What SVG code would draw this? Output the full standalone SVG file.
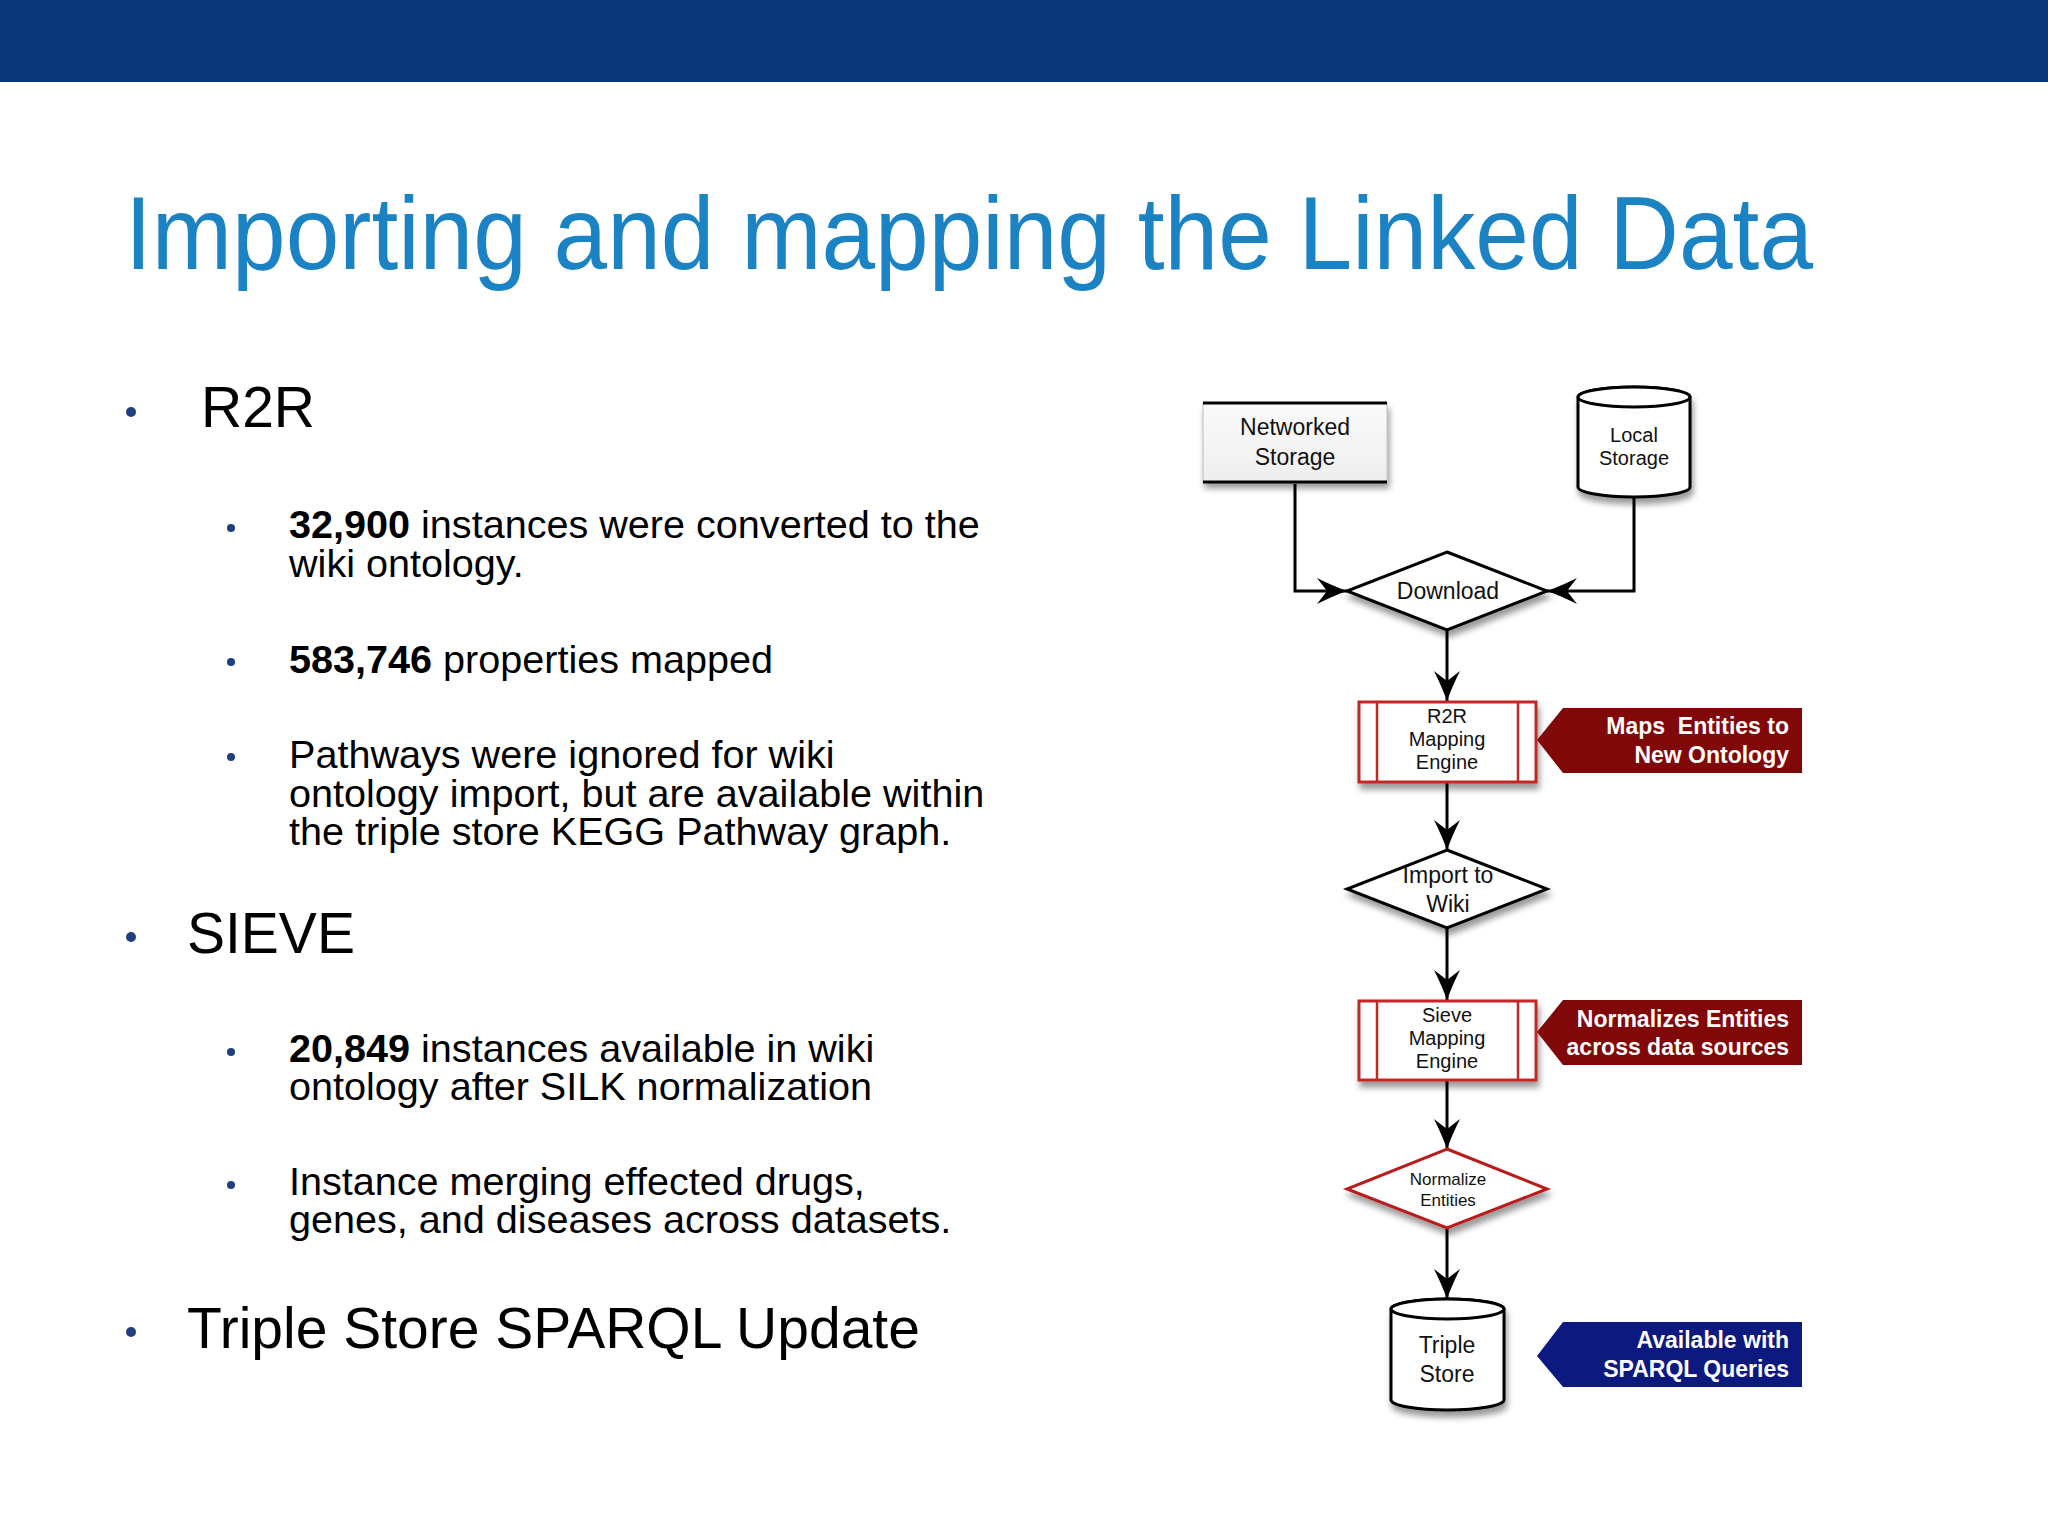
<svg xmlns="http://www.w3.org/2000/svg" width="2048" height="1536" viewBox="0 0 2048 1536">
<defs>
<style>
.body{font-family:"Liberation Sans",Arial,sans-serif;fill:#000}
.lvl1{font-size:57px}
.lvl2{font-size:39.6px}
.bullet{fill:#1f3f80}
.node{font-family:"Liberation Sans",Arial,sans-serif;fill:#111;text-anchor:middle}
.callout{font-family:"Liberation Sans",Arial,sans-serif;font-weight:bold;font-size:23px;fill:#fff;text-anchor:end;white-space:pre}
.edge{fill:none;stroke:#000;stroke-width:3;marker-end:url(#arrow)}
.shape{fill:#fff;stroke:#000;stroke-width:3}
.redbox{fill:#fff;stroke:#c42626;stroke-width:3}
.redline{stroke:#c42626;stroke-width:2.5}
</style>
<filter id="shadow" x="-20%" y="-20%" width="140%" height="150%">
<feGaussianBlur in="SourceAlpha" stdDeviation="3"/>
<feOffset dx="2" dy="6" result="b"/>
<feComponentTransfer><feFuncA type="linear" slope="0.4"/></feComponentTransfer>
<feMerge><feMergeNode/><feMergeNode in="SourceGraphic"/></feMerge>
</filter>
<linearGradient id="grayfill" x1="0" y1="0" x2="0" y2="1">
<stop offset="0" stop-color="#fafafa"/>
<stop offset="1" stop-color="#eeeeee"/>
</linearGradient>
<marker id="arrow" viewBox="-32 -14 34 28" refX="0" refY="0" markerWidth="34" markerHeight="28" markerUnits="userSpaceOnUse" orient="auto">
<path d="M0,0 Q-14,-5 -30,-13 L-20,0 L-30,13 Q-14,5 0,0 Z" fill="#000"/>
</marker>
</defs>

<rect x="0" y="0" width="2048" height="82" fill="#08387a"/>
<text x="125" y="269" font-family="Liberation Sans, Arial, sans-serif" font-size="103" fill="#1b82c3" textLength="1688" lengthAdjust="spacingAndGlyphs">Importing and mapping the Linked Data</text>

<g id="bullets-left">
<circle class="bullet" cx="131" cy="412" r="5"/>
<text class="body lvl1" x="201" y="427">R2R</text>
<circle class="bullet" cx="231" cy="528" r="4"/>
<text class="body lvl2" x="289" y="538"><tspan font-weight="bold">32,900</tspan> instances were converted to the</text>
<text class="body lvl2" x="289" y="577">wiki ontology.</text>
<circle class="bullet" cx="231" cy="662" r="4"/>
<text class="body lvl2" x="289" y="673"><tspan font-weight="bold">583,746</tspan> properties mapped</text>
<circle class="bullet" cx="231" cy="757" r="4"/>
<text class="body lvl2" x="289" y="768">Pathways were ignored for wiki</text>
<text class="body lvl2" x="289" y="807">ontology import, but are available within</text>
<text class="body lvl2" x="289" y="845">the triple store KEGG Pathway graph.</text>
<circle class="bullet" cx="131" cy="937" r="5"/>
<text class="body lvl1" x="187" y="953">SIEVE</text>
<circle class="bullet" cx="231" cy="1052" r="4"/>
<text class="body lvl2" x="289" y="1062"><tspan font-weight="bold">20,849</tspan> instances available in wiki</text>
<text class="body lvl2" x="289" y="1100">ontology after SILK normalization</text>
<circle class="bullet" cx="231" cy="1185" r="4"/>
<text class="body lvl2" x="289" y="1195">Instance merging effected drugs,</text>
<text class="body lvl2" x="289" y="1233">genes, and diseases across datasets.</text>
<circle class="bullet" cx="131" cy="1332" r="5"/>
<text class="body lvl1" x="187" y="1348">Triple Store SPARQL Update</text>
</g>

<g id="connectors">
<path class="edge" d="M1295,484 V591 H1347"/>
<path class="edge" d="M1634,497 V591 H1547"/>
<path class="edge" d="M1447,630 V701"/>
<path class="edge" d="M1447,782 V850"/>
<path class="edge" d="M1447,928 V1000"/>
<path class="edge" d="M1447,1080 V1149"/>
<path class="edge" d="M1447,1228 V1299"/>
</g>

<g id="networked-storage">
<g filter="url(#shadow)">
<rect x="1203" y="403" width="184" height="79" fill="url(#grayfill)" stroke="#bbb" stroke-width="1"/>
</g>
<line x1="1203" y1="403" x2="1387" y2="403" stroke="#000" stroke-width="3"/>
<line x1="1203" y1="482" x2="1387" y2="482" stroke="#000" stroke-width="3"/>
<text class="node" font-size="23" x="1295" y="435">Networked</text>
<text class="node" font-size="23" x="1295" y="465">Storage</text>
</g>

<g id="local-storage">
<g filter="url(#shadow)">
<path class="shape" d="M1578,397 V487 A56,10 0 0 0 1690,487 V397 A56,10 0 0 0 1578,397 Z"/>
</g>
<ellipse cx="1634" cy="397" rx="56" ry="10" fill="#fff" stroke="#000" stroke-width="3"/>
<text class="node" font-size="20" x="1634" y="442">Local</text>
<text class="node" font-size="20" x="1634" y="465">Storage</text>
</g>

<g id="download">
<polygon class="shape" filter="url(#shadow)" points="1447,552 1547,591 1447,630 1347,591"/>
<text class="node" font-size="23" x="1448" y="599">Download</text>
</g>

<g id="r2r-engine">
<rect class="redbox" filter="url(#shadow)" x="1359" y="702" width="177" height="80"/>
<line class="redline" x1="1377" y1="702" x2="1377" y2="782"/>
<line class="redline" x1="1518" y1="702" x2="1518" y2="782"/>
<text class="node" font-size="20" x="1447" y="723">R2R</text>
<text class="node" font-size="20" x="1447" y="746">Mapping</text>
<text class="node" font-size="20" x="1447" y="769">Engine</text>
</g>

<g id="callout-maps">
<polygon points="1537,740 1563,708 1802,708 1802,773 1563,773" fill="#800808"/>
<text class="callout" x="1789" y="734">Maps  Entities to</text>
<text class="callout" x="1789" y="763">New Ontology</text>
</g>

<g id="import-wiki">
<polygon class="shape" filter="url(#shadow)" points="1447,850 1547,889 1447,928 1347,889"/>
<text class="node" font-size="23" x="1448" y="883">Import to</text>
<text class="node" font-size="23" x="1448" y="912">Wiki</text>
</g>

<g id="sieve-engine">
<rect class="redbox" filter="url(#shadow)" x="1359" y="1001" width="177" height="79"/>
<line class="redline" x1="1377" y1="1001" x2="1377" y2="1080"/>
<line class="redline" x1="1518" y1="1001" x2="1518" y2="1080"/>
<text class="node" font-size="20" x="1447" y="1022">Sieve</text>
<text class="node" font-size="20" x="1447" y="1045">Mapping</text>
<text class="node" font-size="20" x="1447" y="1068">Engine</text>
</g>

<g id="callout-normalizes">
<polygon points="1537,1032 1563,1000 1802,1000 1802,1065 1563,1065" fill="#800808"/>
<text class="callout" x="1789" y="1027">Normalizes Entities</text>
<text class="callout" x="1789" y="1055">across data sources</text>
</g>

<g id="normalize-entities">
<polygon filter="url(#shadow)" points="1447,1149 1547,1189 1447,1228 1347,1189" fill="#fff" stroke="#b81e1e" stroke-width="3"/>
<text class="node" font-size="17" x="1448" y="1185">Normalize</text>
<text class="node" font-size="17" x="1448" y="1206">Entities</text>
</g>

<g id="triple-store">
<g filter="url(#shadow)">
<path class="shape" d="M1391,1309 V1400 A56.5,10 0 0 0 1504,1400 V1309 A56.5,10 0 0 0 1391,1309 Z"/>
</g>
<ellipse cx="1447.5" cy="1309" rx="56.5" ry="10" fill="#fff" stroke="#000" stroke-width="3"/>
<text class="node" font-size="23" x="1447" y="1353">Triple</text>
<text class="node" font-size="23" x="1447" y="1382">Store</text>
</g>

<g id="callout-sparql">
<polygon points="1537,1356 1563,1322 1802,1322 1802,1387 1563,1387" fill="#0c1a80"/>
<text class="callout" x="1789" y="1348">Available with</text>
<text class="callout" x="1789" y="1377">SPARQL Queries</text>
</g>
</svg>
